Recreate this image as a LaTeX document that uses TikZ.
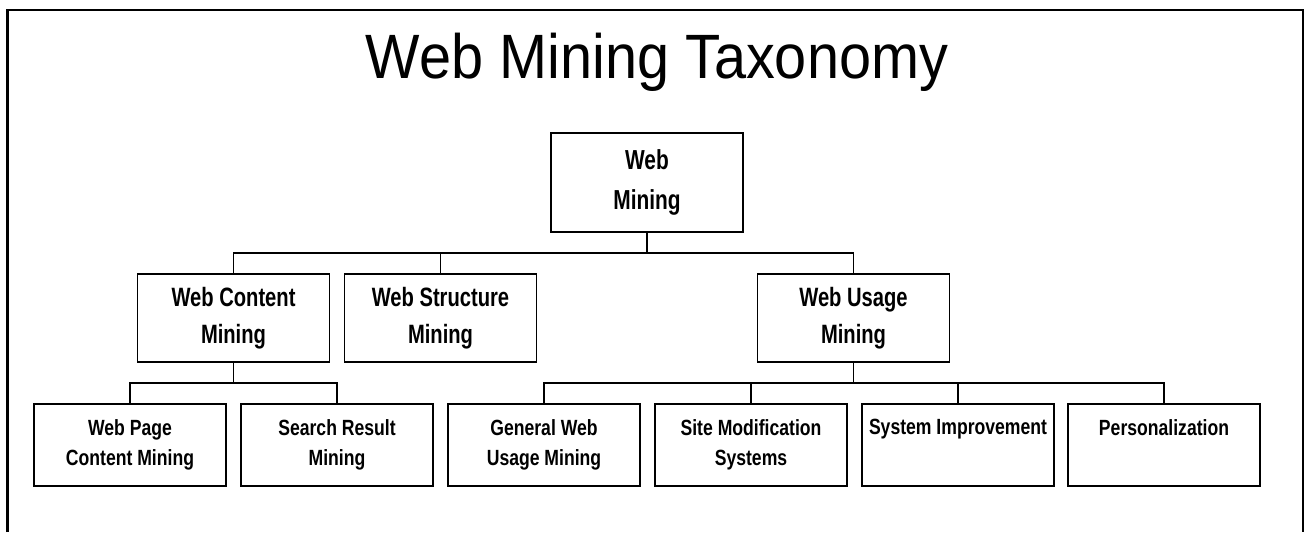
\documentclass[tikz,border=0pt]{standalone}
\usepackage{fontspec}
\setmainfont{Liberation Sans}
\newfontfamily\headfont[FakeStretch=0.92]{Liberation Sans}
\newfontfamily\labelfont[FakeStretch=0.76]{Liberation Sans}
\newfontfamily\leaffont[FakeStretch=0.80]{Liberation Sans}
\begin{document}
\begin{tikzpicture}[x=0.75pt,y=-0.75pt,
  box/.style={draw=black, line width=1pt, fill=white, inner sep=0pt, align=center},
  rootbox/.style={box, minimum width=144pt, minimum height=74.25pt,
    font=\labelfont\bfseries\fontsize{20.6}{30}\selectfont},
  midbox/.style={box, minimum width=144pt, minimum height=66pt,
    font=\labelfont\bfseries\fontsize{19.9}{27.5}\selectfont},
  leafbox/.style={box, minimum width=144pt, minimum height=61.5pt},
  leaftext/.style={anchor=north, inner sep=0pt, align=center,
    font=\leaffont\bfseries\fontsize{16.5}{22.5}\selectfont},
  link/.style={line width=0.8pt, draw=black}]

\useasboundingbox (0,0) rectangle (1310,532);

% open frame round the slide
\draw[line width=1.6pt] (7.5,532) -- (7.5,10) -- (1303,10) -- (1303,532);

% heading
\node[anchor=base, inner sep=0pt, font=\headfont\fontsize{47}{56}\selectfont] (title) at (657,78) {Web Mining Taxonomy};

% levels of the tree
\coordinate (bus1) at (0,253);
\coordinate (bus2) at (0,383);

\node[rootbox] (wm) at (647,182.5) {Web\\Mining};

\node[midbox] (wc) at (233.5,318) {Web Content\\Mining};
\node[midbox] (ws) at (440.5,318) {Web Structure\\Mining};
\node[midbox] (wu) at (853.5,318) {Web Usage\\Mining};

\node[leafbox] (wp) at (130,445) {};
\node[leafbox] (sr) at (337,445) {};
\node[leafbox] (gw) at (544,445) {};
\node[leafbox] (sm) at (751,445) {};
\node[leafbox] (si) at (958,445) {};
\node[leafbox] (pz) at (1164,445) {};

\node[leaftext] (wpT) at ([yshift=-12pt]wp.north) {Web Page\\Content Mining};
\node[leaftext] (srT) at ([yshift=-12pt]sr.north) {Search Result\\Mining};
\node[leaftext] (gwT) at ([yshift=-12pt]gw.north) {General Web\\Usage Mining};
\node[leaftext] (smT) at ([yshift=-12pt]sm.north) {Site Modification\\Systems};
\node[leaftext] (siT) at ([yshift=-12pt]si.north) {System Improvement};
\node[leaftext] (pzT) at ([yshift=-12pt]pz.north) {Personalization};

% connectors
\draw[link] (wm.south) -- (wm.south |- bus1) -| (wc.north);
\draw[link] (wm.south |- bus1) -| (ws.north);
\draw[link] (wm.south |- bus1) -| (wu.north);

\draw[link] (wc.south) -- (wc.south |- bus2) -| (wp.north);
\draw[link] (wc.south |- bus2) -| (sr.north);

\draw[link] (wu.south) -- (wu.south |- bus2) -| (gw.north);
\draw[link] (wu.south |- bus2) -| (sm.north);
\draw[link] (wu.south |- bus2) -| (si.north);
\draw[link] (wu.south |- bus2) -| (pz.north);
\end{tikzpicture}
\end{document}
